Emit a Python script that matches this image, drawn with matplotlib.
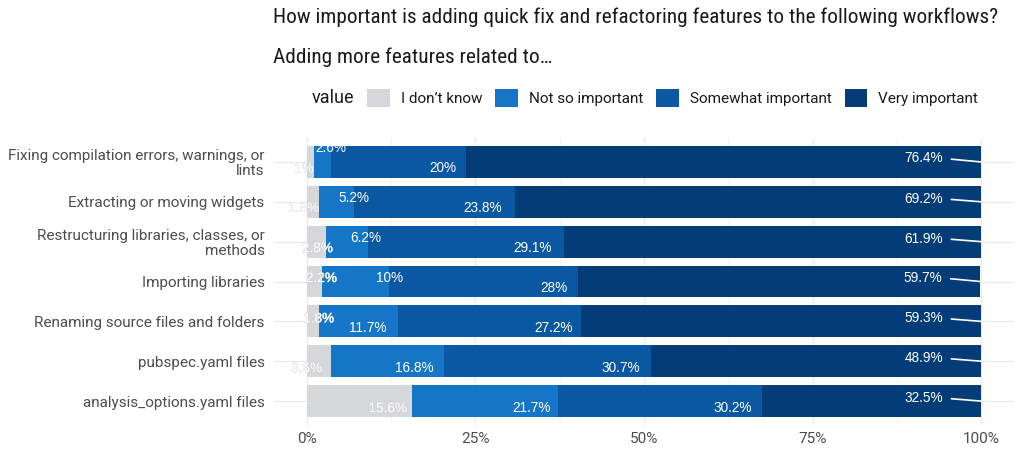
import matplotlib
matplotlib.use("Agg")
import matplotlib.pyplot as plt
from matplotlib import font_manager as fm
from matplotlib.patches import Patch
import matplotlib.patheffects as pe
import matplotlib.transforms as mtrans
import numpy as np

# ---------------- data ----------------
categories = [
    "Fixing compilation errors, warnings, or\nlints",
    "Extracting or moving widgets",
    "Restructuring libraries, classes, or\nmethods",
    "Importing libraries",
    "Renaming source files and folders",
    "pubspec.yaml files",
    "analysis_options.yaml files",
]
series_names = ["I don\u2019t know", "Not so important", "Somewhat important", "Very important"]
dont_know = [1.0, 1.8, 2.8, 2.2, 1.8, 3.6, 15.6]
not_so = [2.6, 5.2, 6.2, 10.0, 11.7, 16.8, 21.7]
somewhat = [20.0, 23.8, 29.1, 28.0, 27.2, 30.7, 30.2]
very = [76.4, 69.2, 61.9, 59.7, 59.3, 48.9, 32.5]
x_ticks = [0, 25, 50, 75, 100]
x_ticklabels = ["0%", "25%", "50%", "75%", "100%"]

title = "How important is adding quick fix and refactoring features to the following workflows?"
subtitle = "Adding more features related to\u2026"

# ---------------- style ----------------
colors = ["#D6D7DB", "#1576C7", "#0A58A1", "#043C77"]
# label nudges (pixels) mimicking the repelled label placement of the original
label_dx_px = [
    [10, 25, 0, -28],
    [10, 25, -3, -28],
    [17, 24, -2, -28],
    [25, 24, 0, -28],
    [25, -1, 2, -28],
    [1, -1, -1, -28],
    [5, 2, 0, -28],
]
label_dy_px = [
    [6.5, -14, 6, -3.5],
    [6, -4, 6, -3],
    [6.5, -3.5, 6.5, -3],
    [-3.5, -3.5, 7, -3.5],
    [-3, 7, 7, -3],
    [7, 7, 7, -3],
    [7, 7, 7, -3],
]

names = {f.name for f in fm.fontManager.ttflist}
base_font = "Roboto" if "Roboto" in names else "DejaVu Sans"
cond_font = next((n for n in ["Roboto Condensed", "Liberation Sans Narrow", "Noto Sans Condensed",
                              "Open Sans Condensed"] if n in names), base_font)
label_font = "Liberation Sans" if "Liberation Sans" in names else base_font

plt.rcParams["font.family"] = [base_font, "DejaVu Sans"]

W, H = 1024, 455
fig = plt.figure(figsize=(W / 100, H / 100), dpi=100)
ax = fig.add_axes([273 / W, 1 - 425 / H, 742 / W, 287 / H])

series = [dont_know, not_so, somewhat, very]
y = np.arange(len(categories))
left = np.zeros(len(categories))
ends = []
for vals, col, name in zip(series, colors, series_names):
    vals = np.array(vals)
    ax.barh(y, vals, left=left, height=0.8, color=col, label=name, zorder=2, linewidth=0)
    left = left + vals
    ends.append(left.copy())

ax.set_xlim(-5.04, 105.04)
ax.set_ylim(len(categories) - 0.4, -0.6)
ax.set_xticks(x_ticks)
ax.set_xticklabels(x_ticklabels)
ax.set_xticks([12.5, 37.5, 62.5, 87.5], minor=True)
ax.set_yticks(y)
ax.set_yticklabels(categories)
ax.set_axisbelow(True)
ax.grid(which="major", axis="both", color="#EBEBEB", lw=1.0, zorder=0)
ax.grid(which="minor", axis="x", color="#F4F4F4", lw=0.8, zorder=0)
for s in ax.spines.values():
    s.set_visible(False)
ax.tick_params(axis="both", which="both", length=0, colors="#4D4D4D", labelsize=11)
ax.tick_params(axis="y", pad=6)
ax.tick_params(axis="x", pad=5)
for t in ax.get_yticklabels():
    t.set_linespacing(1.05)

# ---------------- value labels ----------------
lab_size = 9.8
for i in range(len(categories)):
    for j, vals in enumerate(series):
        v = vals[i]
        txt = f"{v:g}%"
        end = ends[j][i]
        dx = -10 + label_dx_px[i][j]
        dy = -label_dy_px[i][j]
        if j == 0:
            kw = dict(color="white",
                      path_effects=[pe.withStroke(linewidth=0.5, foreground="#CFCFCF")])
        else:
            kw = dict(color="white")
        if j == len(series) - 1:
            ax.annotate(txt, xy=(end, y[i]), xytext=(dx, dy), textcoords="offset pixels",
                        ha="right", va="center", fontsize=lab_size, family=label_font, zorder=5,
                        arrowprops=dict(arrowstyle="-", color="white", lw=1.2,
                                        shrinkA=4, shrinkB=0, relpos=(1, 0.5)), **kw)
        else:
            tr = mtrans.offset_copy(ax.transData, fig=fig, x=dx, y=dy, units="dots")
            ax.text(end, y[i], txt, transform=tr, ha="right", va="center",
                    fontsize=lab_size, family=label_font, zorder=5, **kw)

# ---------------- titles ----------------
def fit_text(t, target_px):
    fig.canvas.draw()
    r = fig.canvas.get_renderer()
    w = t.get_window_extent(r).width
    t.set_fontsize(t.get_fontsize() * target_px / w)

t1 = fig.text(273 / W, 1 - 17 / H, title, family=[cond_font, "DejaVu Sans"], fontsize=15,
              color="#1A1A1A", ha="left", va="center")
fit_text(t1, 727)
t2 = fig.text(273 / W, 1 - 57 / H, subtitle, family=[cond_font, "DejaVu Sans"], fontsize=15,
              color="#1A1A1A", ha="left", va="center")
fit_text(t2, 279)

# ---------------- legend ----------------
fig.text(312 / W, 1 - 98 / H, "value", fontsize=13, color="#1A1A1A", ha="left", va="center")
handles = [Patch(facecolor=c, edgecolor="none", label=n) for c, n in zip(colors, series_names)]
fig.legend(handles=handles, loc="center left", bbox_to_anchor=(367 / W, 1 - 98 / H),
           ncol=4, frameon=False, fontsize=11, labelcolor="#1A1A1A",
           handlelength=1.5, handleheight=1.5, handletextpad=0.7, columnspacing=0.85,
           borderpad=0, borderaxespad=0)

fig.savefig("out.png", dpi=100)
